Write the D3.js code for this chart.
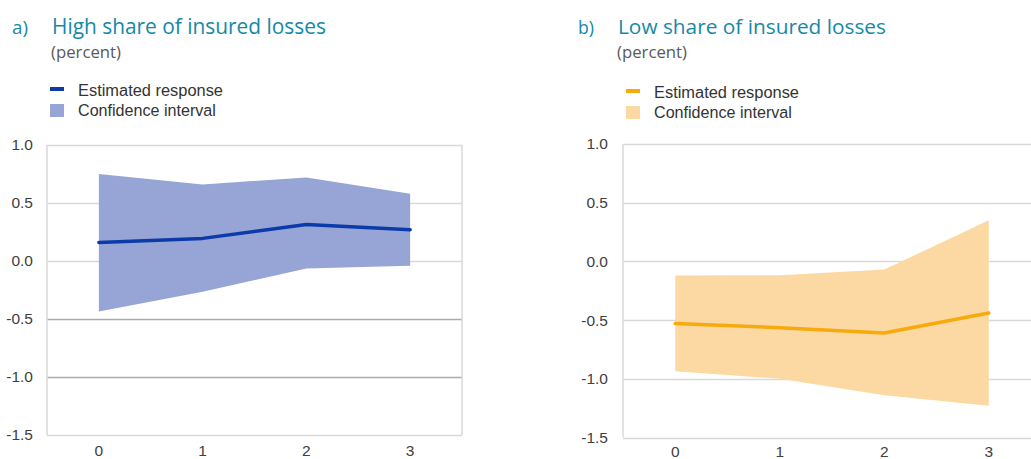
<!DOCTYPE html>
<html>
<head>
<meta charset="utf-8">
<script src="https://cdn.jsdelivr.net/npm/d3@7"></script>
<style>
  html, body { margin: 0; padding: 0; background: #fff; }
  svg { display: block; }
</style>
</head>
<body>
<svg id="chart" width="1031" height="459"></svg>
<script>
// ---- data ----
const horizons = ["0", "1", "2", "3"];
const yTicks = [1.0, 0.5, 0.0, -0.5, -1.0, -1.5];

const highEstimate = [0.16, 0.195, 0.315, 0.27];
const highUpper    = [0.75, 0.66, 0.72, 0.58];
const highLower    = [-0.435, -0.265, -0.065, -0.04];

const lowEstimate = [-0.53, -0.565, -0.61, -0.44];
const lowUpper    = [-0.12, -0.117, -0.07, 0.35];
const lowLower    = [-0.935, -1.0, -1.14, -1.23];

const panelTitles = ["High share of insured losses", "Low share of insured losses"];
const panelLetters = ["a)", "b)"];
const unitLabel = "(percent)";
const legendLabels = ["Estimated response", "Confidence interval"];

// ---- drawing ----
const svg = d3.select("#chart");
const tickFont = "'Liberation Sans', Arial, sans-serif";
const titleFont = "'Open Sans', 'Noto Sans', sans-serif";

function fitText(sel, targetWidth) {
  const node = sel.node();
  const fs = parseFloat(sel.attr("font-size"));
  const w = node.getComputedTextLength();
  if (w > 0) sel.attr("font-size", (fs * targetWidth / w).toFixed(2));
}

function drawPanel(cfg) {
  const g = svg.append("g");

  // headings
  const a = g.append("text").attr("x", cfg.letterX).attr("y", 34)
    .attr("font-family", titleFont).attr("font-size", 19)
    .attr("fill", "#1589a5").text(cfg.letter);
  fitText(a, 16);
  const t = g.append("text").attr("x", cfg.titleX).attr("y", 34)
    .attr("font-family", titleFont).attr("font-size", 19)
    .attr("fill", "#1589a5").text(cfg.title);
  fitText(t, cfg.titleW);
  const p = g.append("text").attr("x", cfg.titleX - 1).attr("y", 58)
    .attr("font-family", titleFont).attr("font-size", 14)
    .attr("fill", "#595959").text(unitLabel);
  fitText(p, 70);

  // legend
  g.append("rect").attr("x", cfg.legX).attr("y", cfg.legY - 2)
    .attr("width", 14).attr("height", 4).attr("fill", cfg.lineColor);
  const l1 = g.append("text").attr("x", cfg.legX + 28).attr("y", cfg.legY + 7)
    .attr("font-family", tickFont).attr("font-size", 15)
    .attr("fill", "#333").text(legendLabels[0]);
  fitText(l1, 145);
  g.append("rect").attr("x", cfg.legX).attr("y", cfg.legY + 15)
    .attr("width", 14).attr("height", 13).attr("fill", cfg.fillColor);
  const l2 = g.append("text").attr("x", cfg.legX + 28).attr("y", cfg.legY + 27)
    .attr("font-family", tickFont).attr("font-size", 15)
    .attr("fill", "#333").text(legendLabels[1]);
  fitText(l2, 138);

  // scales
  const x = d3.scaleBand().domain(horizons).range([cfg.left, cfg.right]);
  const y = d3.scaleLinear().domain([-1.5, 1.0]).range([cfg.bottom, cfg.top]);

  // gridlines
  g.append("g").selectAll("line").data(yTicks).join("line")
    .attr("x1", cfg.left).attr("x2", cfg.right)
    .attr("y1", d => Math.round(y(d)) + 0.5).attr("y2", d => Math.round(y(d)) + 0.5)
    .attr("stroke", d => (cfg.darkGrid.includes(d) ? "#ababab" : "#d9d9d9"))
    .attr("stroke-width", 1.5);
  // frame sides
  [cfg.left, cfg.right].forEach(xx => {
    g.append("line").attr("x1", xx).attr("x2", xx)
      .attr("y1", y(1.0)).attr("y2", y(-1.5))
      .attr("stroke", "#d9d9d9").attr("stroke-width", 1.5);
  });

  // y axis labels
  const yAxis = d3.axisLeft(y).tickValues(yTicks).tickFormat(d3.format(".1f"))
    .tickSize(0).tickPadding(cfg.left - cfg.labelRight);
  const ya = g.append("g").attr("transform", `translate(${cfg.left},0)`).call(yAxis);
  ya.select(".domain").remove();
  ya.selectAll("text").attr("font-family", tickFont).attr("font-size", 15.5)
    .attr("fill", "#404040").text(d => d3.format(".1f")(d).replace("−", "-"));

  // x axis labels
  const xAxis = d3.axisBottom(x).tickSize(0).tickPadding(cfg.xPad);
  const xa = g.append("g").attr("transform", `translate(0,${cfg.bottom})`).call(xAxis);
  xa.select(".domain").remove();
  xa.selectAll("text").attr("font-family", tickFont).attr("font-size", 15.5)
    .attr("fill", "#404040");

  // area + line
  const cx = i => x(horizons[i]) + x.bandwidth() / 2;
  const idx = d3.range(horizons.length);
  const area = d3.area().x(i => cx(i)).y0(i => y(cfg.lower[i])).y1(i => y(cfg.upper[i]));
  g.append("path").datum(idx).attr("d", area).attr("fill", cfg.fillColor);
  const line = d3.line().x(i => cx(i)).y(i => y(cfg.est[i]));
  g.append("path").datum(idx).attr("d", line).attr("fill", "none")
    .attr("stroke", cfg.lineColor).attr("stroke-width", 3.5)
    .attr("stroke-linejoin", "round").attr("stroke-linecap", "round");
}

drawPanel({
  letter: panelLetters[0], title: panelTitles[0],
  letterX: 12, titleX: 52, titleW: 274,
  legX: 50, legY: 89,
  left: 47, right: 462, top: 145, bottom: 435, labelRight: 33, xPad: 10,
  darkGrid: [-0.5, -1.0],
  est: highEstimate, upper: highUpper, lower: highLower,
  lineColor: "#0b3ba8", fillColor: "#97a4d6"
});

drawPanel({
  letter: panelLetters[1], title: panelTitles[1],
  letterX: 578, titleX: 618, titleW: 268,
  legX: 626, legY: 91,
  left: 623, right: 1041, top: 144, bottom: 437.5, labelRight: 608, xPad: 8,
  darkGrid: [],
  est: lowEstimate, upper: lowUpper, lower: lowLower,
  lineColor: "#f6aa0c", fillColor: "#fcd9a3"
});
</script>
</body>
</html>
